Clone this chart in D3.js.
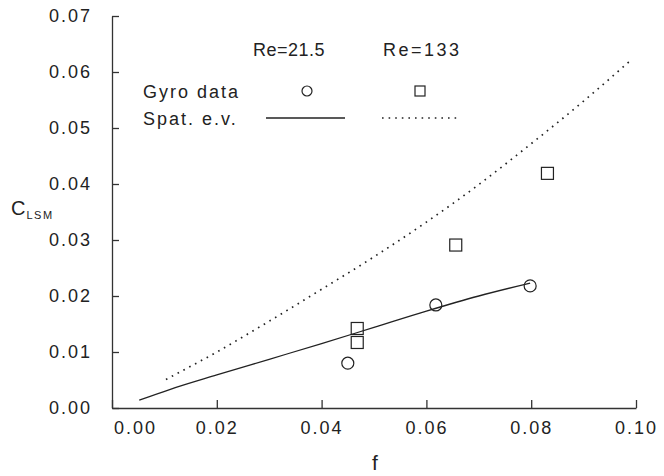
<!doctype html>
<html>
<head>
<meta charset="UTF-8">
<title>C_LSM vs f</title>
<style>
  body { margin: 0; background: #fff; }
  text { font-family: "Liberation Sans", Arial, sans-serif; fill: #222; }
</style>
</head>
<body>
<div id="chart"></div>
<script src="https://cdn.jsdelivr.net/npm/d3@7"></script>
<script>
// data
var xTicks = [0.00, 0.02, 0.04, 0.06, 0.08, 0.10];
var yTicks = [0.00, 0.01, 0.02, 0.03, 0.04, 0.05, 0.06, 0.07];

// Gyro data, Re=21.5 (circles)
var gyroLow = [[0.045, 0.0080], [0.0618, 0.0184], [0.0798, 0.0218]];
// Gyro data, Re=133 (squares)
var gyroHigh = [[0.0468, 0.0142], [0.0468, 0.0117], [0.0656, 0.0291], [0.0831, 0.0419]];

// Spat. e.v., Re=21.5 (solid)
var spatLow = [[0.0052, 0.0014], [0.011, 0.0033], [0.02, 0.0059], [0.03, 0.0087],
  [0.04, 0.0115], [0.05, 0.0144], [0.06, 0.0173], [0.07, 0.0200], [0.0798, 0.0223]];
// Spat. e.v., Re=133 (dotted)
var spatHigh = [[0.0103, 0.0051], [0.02, 0.0100], [0.03, 0.0155], [0.04, 0.0212],
  [0.05, 0.0270], [0.06, 0.0332], [0.07, 0.0399], [0.08, 0.0472], [0.09, 0.0548], [0.099, 0.0621]];

var width = 664, height = 476;
var margin = {top: 16, right: 28, bottom: 68, left: 112};

var svg = d3.select("#chart")
  .append("svg")
    .attr("width", width)
    .attr("height", height);

var x = d3.scaleLinear()
  .domain([0, 0.10])
  .range([margin.left, width - margin.right]);

var y = d3.scaleLinear()
  .domain([0, 0.07])
  .range([height - margin.bottom, margin.top]);

// x axis, ticks pointing inward
var gx = svg.append("g")
  .attr("transform", "translate(0," + y(0) + ")")
  .call(d3.axisBottom(x).tickValues(xTicks).tickFormat(d3.format(".2f"))
    .tickSizeInner(-8).tickSizeOuter(0).tickPadding(13));
gx.selectAll("text")
  .style("font-size", "18px")
  .style("letter-spacing", "2px")
  .attr("dx", function(d) { return d === 0 ? 23 : 0; });

// y axis
var gy = svg.append("g")
  .attr("transform", "translate(" + x(0) + ",0)")
  .call(d3.axisLeft(y).tickValues(yTicks).tickFormat(d3.format(".2f"))
    .tickSizeInner(-7).tickSizeOuter(0).tickPadding(20));
gy.selectAll("text")
  .style("font-size", "18px")
  .style("letter-spacing", "2px");

svg.selectAll(".domain, .tick line")
  .attr("stroke", "#333")
  .attr("stroke-width", 1.3);

// axis titles
svg.append("text")
  .attr("x", x(0.05) + 1)
  .attr("y", 470)
  .attr("text-anchor", "middle")
  .style("font-size", "21px")
  .text("f");

var ct = svg.append("text")
  .attr("x", 11)
  .attr("y", 215)
  .style("font-size", "20px");
ct.append("tspan").text("C");
ct.append("tspan")
  .attr("dy", 4)
  .attr("dx", 1)
  .style("font-size", "11px")
  .style("letter-spacing", "1.5px")
  .text("LSM");

// curves
var line = d3.line()
  .x(function(d) { return x(d[0]); })
  .y(function(d) { return y(d[1]); })
  .curve(d3.curveMonotoneX);

svg.append("path")
  .datum(spatLow)
  .attr("d", line)
  .attr("fill", "none")
  .attr("stroke", "#222")
  .attr("stroke-width", 1.3);

svg.append("path")
  .datum(spatHigh)
  .attr("d", line)
  .attr("fill", "none")
  .attr("stroke", "#222")
  .attr("stroke-width", 1.7)
  .attr("stroke-dasharray", "1.6,5");

// markers
svg.selectAll(".circ")
  .data(gyroLow)
  .join("circle")
    .attr("class", "circ")
    .attr("cx", function(d) { return x(d[0]); })
    .attr("cy", function(d) { return y(d[1]); })
    .attr("r", 6)
    .attr("fill", "none")
    .attr("stroke", "#222")
    .attr("stroke-width", 1.2);

svg.selectAll(".sq")
  .data(gyroHigh)
  .join("rect")
    .attr("class", "sq")
    .attr("x", function(d) { return x(d[0]) - 6; })
    .attr("y", function(d) { return y(d[1]) - 6; })
    .attr("width", 12)
    .attr("height", 12)
    .attr("fill", "none")
    .attr("stroke", "#222")
    .attr("stroke-width", 1.2);

// legend
var leg = svg.append("g");
leg.append("text").attr("x", 253).attr("y", 56)
  .style("font-size", "18px").style("letter-spacing", "0.5px").text("Re=21.5");
leg.append("text").attr("x", 383).attr("y", 56)
  .style("font-size", "18px").style("letter-spacing", "2.5px").text("Re=133");
leg.append("text").attr("x", 143).attr("y", 98)
  .style("font-size", "18px").style("letter-spacing", "2px").text("Gyro data");
leg.append("text").attr("x", 143).attr("y", 125)
  .style("font-size", "18px").style("letter-spacing", "2px").text("Spat. e.v.");

leg.append("circle")
  .attr("cx", 307).attr("cy", 91).attr("r", 5)
  .attr("fill", "none").attr("stroke", "#222").attr("stroke-width", 1.2);
leg.append("rect")
  .attr("x", 415).attr("y", 86).attr("width", 10).attr("height", 10)
  .attr("fill", "none").attr("stroke", "#222").attr("stroke-width", 1.2);

leg.append("line")
  .attr("x1", 266).attr("x2", 345).attr("y1", 118).attr("y2", 118)
  .attr("stroke", "#222").attr("stroke-width", 1.3);
leg.append("line")
  .attr("x1", 382).attr("x2", 458).attr("y1", 118).attr("y2", 118)
  .attr("stroke", "#222").attr("stroke-width", 1.5)
  .attr("stroke-dasharray", "1.6,5");
</script>
</body>
</html>
